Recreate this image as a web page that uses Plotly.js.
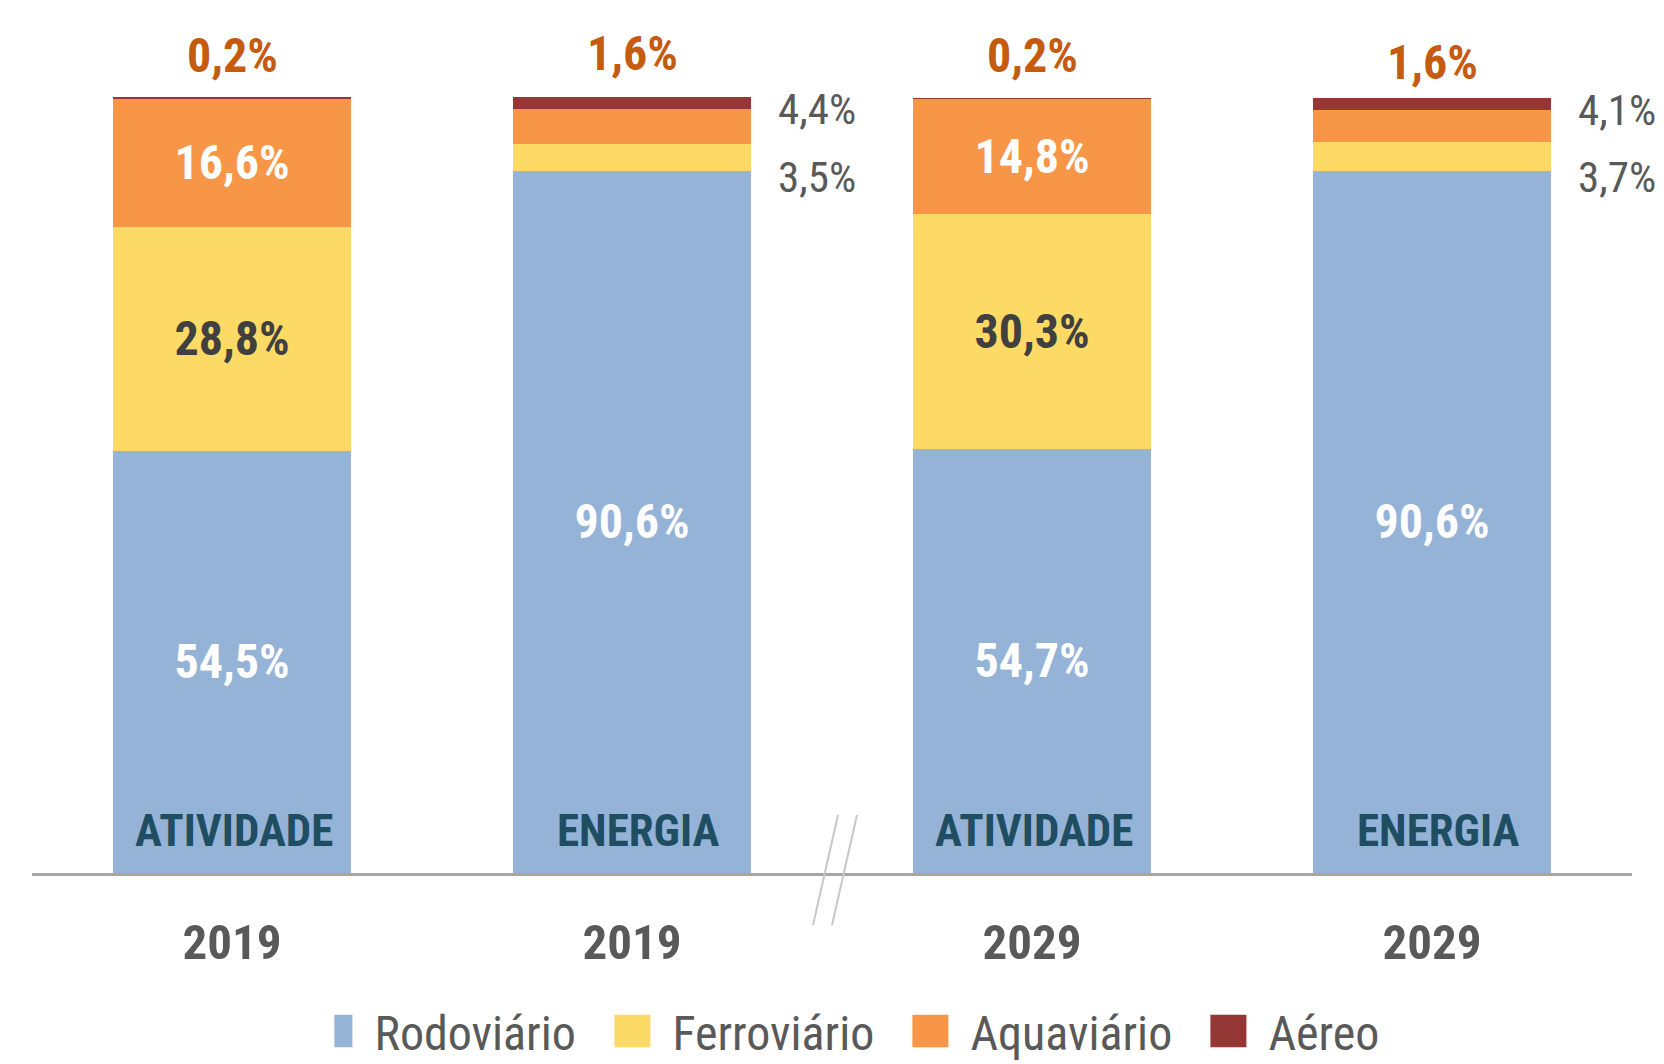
<!DOCTYPE html>
<html>
<head>
<meta charset="utf-8">
<script src="https://cdn.plot.ly/plotly-3.0.1.min.js"></script>
<style>
html,body{margin:0;padding:0;background:#fff;}
#chart{width:1664px;height:1064px;}
</style>
</head>
<body>
<div id="chart"></div>
<script>
// ---- data ----
var years = ['2019', '2019', '2029', '2029'];
var indicators = ['ATIVIDADE', 'ENERGIA', 'ATIVIDADE', 'ENERGIA'];
var seriesNames = ['Rodoviário', 'Ferroviário', 'Aquaviário', 'Aéreo'];
var rodoviario = [54.5, 90.6, 54.7, 90.6];
var ferroviario = [28.8, 3.5, 30.3, 3.7];
var aquaviario = [16.6, 4.4, 14.8, 4.1];
var aereo = [0.2, 1.6, 0.2, 1.6];
var seriesColors = ['#95B3D7', '#FDD966', '#F79646', '#953735'];

var FONT = '"Liberation Sans Narrow", "Arial Narrow", "Roboto Condensed", "Liberation Sans", sans-serif';
var pos = years.map(function (_, i) { return i; });

function fmt(v) { return v.toFixed(1).replace('.', ',') + '%'; }

// inside labels only for the large segments
function insideText(vals, minShow) {
  return vals.map(function (v) { return v >= minShow ? fmt(v) : ''; });
}

var allSeries = [rodoviario, ferroviario, aquaviario, aereo];
var insideColors = ['#FFFFFF', '#404040', '#FFFFFF', '#FFFFFF'];

var traces = allSeries.map(function (vals, k) {
  return {
    type: 'bar',
    name: seriesNames[k],
    x: pos,
    y: vals,
    marker: { color: seriesColors[k], line: { width: 0 } },
    text: insideText(vals, 10),
    textposition: 'inside',
    insidetextanchor: 'middle',
    constraintext: 'none',
    textangle: 0,
    textfont: { family: FONT, size: 48, color: insideColors[k], weight: 'bold' },
    hoverinfo: 'skip',
    cliponaxis: false
  };
});

var annotations = [];
// top labels (Aéreo share)
var topShift = [42, 44, 42, 35];
pos.forEach(function (i) {
  annotations.push({
    x: i, y: 100, xref: 'x', yref: 'y', yanchor: 'middle', yshift: topShift[i],
    text: '<b>' + fmt(aereo[i]) + '</b>', showarrow: false,
    font: { family: FONT, size: 48, color: '#C55A11' }
  });
  // indicator label inside bar bottom
  annotations.push({
    x: i, y: 0, xref: 'x', yref: 'y', yanchor: 'middle', yshift: 43,
    xshift: (indicators[i] === 'ENERGIA' ? 6 : 2),
    text: '<b>' + indicators[i] + '</b>', showarrow: false,
    font: { family: FONT, size: 45, color: '#1F4E63' }
  });
  // side labels for small segments
  if (aquaviario[i] < 10) {
    annotations.push({
      x: i + 0.3, y: rodoviario[i] + ferroviario[i] + aquaviario[i], xref: 'x', yref: 'y',
      xanchor: 'left', yanchor: 'middle', xshift: 24, yshift: 0,
      text: fmt(aquaviario[i]), showarrow: false,
      font: { family: FONT, size: 43, color: '#595959' }
    });
    annotations.push({
      x: i + 0.3, y: rodoviario[i], xref: 'x', yref: 'y',
      xanchor: 'left', yanchor: 'middle', xshift: 24, yshift: -6,
      text: fmt(ferroviario[i]), showarrow: false,
      font: { family: FONT, size: 43, color: '#595959' }
    });
  }
});

// axis break marks between the 2019 and 2029 groups
var shapes = [-19, 0].map(function (dx) {
  return {
    type: 'line', xref: 'x', yref: 'paper',
    xsizemode: 'pixel', ysizemode: 'pixel', xanchor: 1.5, yanchor: 0,
    x0: dx, y0: -52, x1: dx + 25, y1: 58,
    line: { color: '#C8C8C8', width: 2 }
  };
});

var layout = {
  width: 1664, height: 1064,
  margin: { l: 32, r: 32, t: 97, b: 191, autoexpand: false },
  paper_bgcolor: '#FFFFFF', plot_bgcolor: '#FFFFFF',
  barmode: 'stack', bargap: 0.405,
  showlegend: true,
  legend: {
    orientation: 'h', x: 0.189, xanchor: 'left', y: -0.204, yanchor: 'middle',
    font: { family: FONT, size: 48, color: '#595959' },
    entrywidth: 253, entrywidthmode: 'pixels', traceorder: 'normal'
  },
  xaxis: {
    range: [-0.5, 3.5], tickvals: pos, ticktext: years,
    showline: true, linecolor: '#A6A6A6', linewidth: 2.5,
    showgrid: false, zeroline: false,
    ticks: 'outside', ticklen: 25, tickcolor: 'rgba(0,0,0,0)',
    tickfont: { family: FONT, size: 49, color: '#595959', weight: 'bold' },
    fixedrange: true
  },
  yaxis: { range: [0, 100.1], visible: false, fixedrange: true },
  annotations: annotations,
  shapes: shapes,
  hovermode: false
};

Plotly.newPlot('chart', traces, layout, { staticPlot: true }).then(function () {
  document.querySelectorAll('#chart .legendpoints path').forEach(function (p) {
    p.setAttribute('transform', 'scale(3.0,2.7)');
  });
});
</script>
</body>
</html>
